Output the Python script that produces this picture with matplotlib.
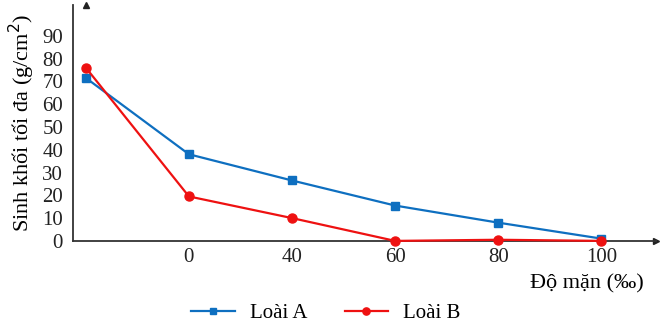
import matplotlib
matplotlib.use('Agg')
import matplotlib.pyplot as plt
import numpy as np

# du lieu
do_man = ['', '0', '40', '60', '80', '100']
loai_a = [71.5, 38, 26.5, 15.5, 8, 1]
loai_b = [76, 19.5, 10, 0, 0.5, 0]

plt.rcParams['font.family'] = ['Liberation Serif', 'DejaVu Serif']

fig = plt.figure(figsize=(6.62, 3.30), dpi=100)
ax = fig.add_axes([0.110, 0.270, 0.881, 0.715])

x = np.arange(len(do_man))
ax.plot(x, loai_a, color='#0E6FC0', lw=1.6, marker='s', ms=6, label='Loài A', clip_on=False, zorder=3)
ax.plot(x, loai_b, color='#EE1111', lw=1.6, marker='o', ms=6.5, label='Loài B', clip_on=False, zorder=4)

ax.set_xlim(-0.126, 5.53)
ax.set_ylim(0, 103.5)
ax.set_xticks(x)
ax.set_xticklabels(do_man, fontsize=15, color='#222222')
ax.set_yticks(np.arange(0, 100, 10))
ax.set_yticklabels([str(v) for v in range(0, 100, 10)], fontsize=15, color='#222222')
ax.tick_params(length=0, pad=5)
ax.tick_params(axis='y', pad=7)

for s in ['top', 'right']:
    ax.spines[s].set_visible(False)
for s in ['left', 'bottom']:
    ax.spines[s].set_color('#333333')
    ax.spines[s].set_linewidth(1.3)

# mui ten truc
ax.plot(1, 0, '>', color='#222222', ms=4, transform=ax.get_yaxis_transform(), clip_on=False)
ax.plot(0, 1, '^', color='#222222', ms=4, transform=ax.get_xaxis_transform(), clip_on=False)

ax.set_ylabel('Sinh khối tối đa (g/cm$^2$)', fontsize=16, labelpad=4)
fig.text(0.972, 0.14, 'Độ mặn (‰)', fontsize=16, ha='right', va='center')

fig.legend(loc='lower center', bbox_to_anchor=(0.492, -0.035), ncol=2, frameon=False,
           fontsize=15, handlelength=2.1, handletextpad=0.7, columnspacing=1.8, markerscale=0.8)

fig.savefig('out.png', dpi=100)
